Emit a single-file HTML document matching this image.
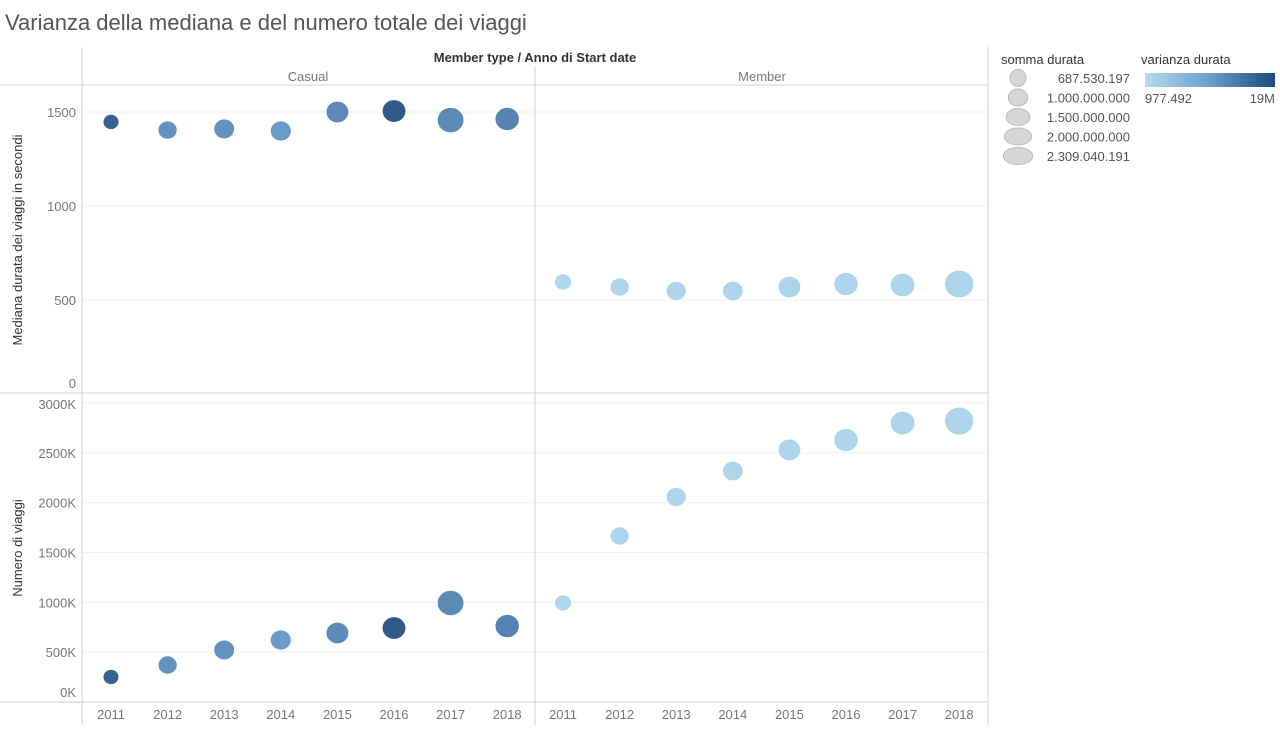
<!DOCTYPE html>
<html><head><meta charset="utf-8"><style>
body{margin:0;background:#fff;font-family:"Liberation Sans",sans-serif;}
svg text{font-family:"Liberation Sans",sans-serif;}
</style></head><body>
<svg id="chart" width="1280" height="736" xmlns="http://www.w3.org/2000/svg">
<text x="5" y="30" font-size="22" fill="#555">Varianza della mediana e del numero totale dei viaggi</text>
<text x="535" y="62" font-size="13" fill="#333" text-anchor="middle" font-weight="bold">Member type  /  Anno di Start date</text>
<text x="308" y="81" font-size="13" fill="#777" text-anchor="middle">Casual</text>
<text x="762" y="81" font-size="13" fill="#777" text-anchor="middle">Member</text>
<g id="grid"></g>
<text transform="translate(22,240) rotate(-90)" font-size="13" fill="#333" text-anchor="middle">Mediana durata dei viaggi in secondi</text>
<text transform="translate(22,548) rotate(-90)" font-size="13" fill="#333" text-anchor="middle">Numero di viaggi</text>
<g id="marks"></g>
<g id="legend">
<text x="1001" y="64" font-size="13" fill="#333">somma durata</text>
<text x="1141" y="64" font-size="13" fill="#333">varianza durata</text>
<defs><linearGradient id="cg" x1="0" x2="1"><stop offset="0" stop-color="#b3dcf1"/><stop offset="0.5" stop-color="#6a9ccb"/><stop offset="1" stop-color="#1e4a7b"/></linearGradient></defs>
<rect x="1145" y="73" width="130" height="14" fill="url(#cg)"/>
<text x="1145" y="103" font-size="13" fill="#555">977.492</text>
<text x="1275" y="103" font-size="13" fill="#555" text-anchor="end">19M</text>
</g>
</svg>
<script>
const years=["2011","2012","2013","2014","2015","2016","2017","2018"];
const casualMedian=[1447,1404,1410,1399,1500,1505,1457,1463];
const memberMedian=[596,569,548,548,569,585,580,585];
const casualCount=[251,371,522,622,692,742,993,762];
const memberCount=[993,1665,2056,2317,2528,2628,2798,2818];
const casualSum=[690,1000,1180,1200,1400,1530,1920,1600];
const memberSum=[780,1000,1100,1150,1400,1600,1650,2309];
const casualVar=[17,11,11,10,12,18,12,13];
const memberVar=[1,1.1,1.1,1.1,1.2,1.3,1.2,1.3];
const medianTicks=[0,500,1000,1500];
const countTicks=[0,500,1000,1500,2000,2500,3000];
const sizeLegend=[687.530197,1000,1500,2000,2309.040191];
const sizeLegendLabels=["687.530.197","1.000.000.000","1.500.000.000","2.000.000.000","2.309.040.191"];
const NS="http://www.w3.org/2000/svg";
function mk(p,t,a){const e=document.createElementNS(NS,t);for(const k in a)e.setAttribute(k,a[k]);p.appendChild(e);return e;}
const yMed=v=>394-v*0.188;
const yCnt=v=>702-v*0.0997;
const xPos=(panel,i)=>111+panel*452+i*56.6;
const rad=v=>14*Math.sqrt(v/2309);
function col(v){const t=Math.min(1,Math.max(0,(v-1)/18));const a=[170,212,236],m=[100,150,198],b=[30,74,123];let c;
 if(t<0.5){const u=t/0.5;c=a.map((x,i)=>x+(m[i]-x)*u);}else{const u=(t-0.5)/0.5;c=m.map((x,i)=>x+(b[i]-x)*u);}
 return `rgb(${c.map(Math.round).join(',')})`;}
const g=document.getElementById('grid');
medianTicks.forEach(v=>{const y=yMed(v);
 if(v>0){const l=mk(g,'line',{x1:82,x2:988,y1:y,y2:y,stroke:'#f0f0f0'});
 
 }
 const t=mk(g,'text',{x:76,y:Math.min(y+5,388),'font-size':13,fill:'#777','text-anchor':'end'});t.textContent=v;
 
 });
countTicks.forEach(v=>{const y=yCnt(v);
 if(v>0){const l=mk(g,'line',{x1:82,x2:988,y1:y,y2:y,stroke:'#f0f0f0'});
 
 }
 const t=mk(g,'text',{x:76,y:Math.min(Math.max(y+5,409),697),'font-size':13,fill:'#777','text-anchor':'end'});t.textContent=v+'K';
 
 });
[[0,85,988,85],[0,393,988,393],[0,702,988,702],[82,47,82,725],[535,67,535,725],[988,47,988,725]].forEach(c=>{
 const l=mk(g,'line',{x1:c[0],y1:c[1],x2:c[2],y2:c[3],stroke:'#d0d0d0'});
 
 });
[0,1].forEach(p=>years.forEach((yr,i)=>{const t=mk(g,'text',{x:xPos(p,i),y:719,'font-size':13,fill:'#777','text-anchor':'middle'});t.textContent=yr;
 
 }));
const m=document.getElementById('marks');
function draw(p,med,cnt,sum,vr){years.forEach((yr,i)=>{const r=rad(sum[i]),c=col(vr[i]),x=xPos(p,i);
 const a=mk(m,'ellipse',{cx:x,cy:yMed(med[i]),rx:r*1.05,ry:r,fill:c,stroke:'#fff','stroke-width':1,opacity:0.95});
 
 
 const b=mk(m,'ellipse',{cx:x,cy:yCnt(cnt[i]),rx:r*1.05,ry:r,fill:c,stroke:'#fff','stroke-width':1,opacity:0.95});
 
 });}
draw(0,casualMedian,casualCount,casualSum,casualVar);
draw(1,memberMedian,memberCount,memberSum,memberVar);
const lg=document.getElementById('legend');
sizeLegend.forEach((v,i)=>{const y=78+i*19.5,r=rad(v);
 const e=mk(lg,'ellipse',{cx:1018,cy:y,rx:r*1.05,ry:8.5,fill:'#d6d6d6',stroke:'#bbb'});
 
 
 const t=mk(lg,'text',{x:1130,y:y+5,'font-size':13,fill:'#555','text-anchor':'end'});t.textContent=sizeLegendLabels[i];
 
 });
</script>
</body></html>
